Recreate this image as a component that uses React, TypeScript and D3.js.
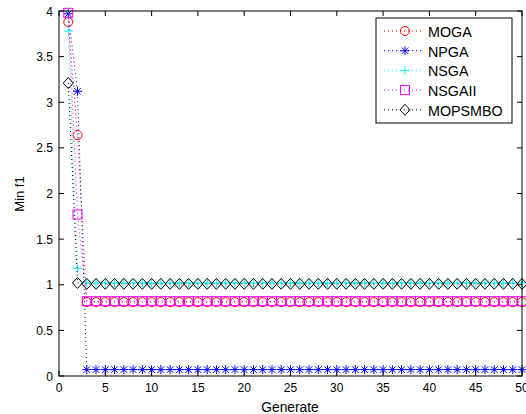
import React from "react";
import * as d3 from "d3";

const generations: number[] = d3.range(1, 51);
const seriesNames = ["MOGA", "NPGA", "NSGA", "NSGAII", "MOPSMBO"];
const mogaHead = [3.88, 2.64];
const npgaHead = [3.97, 3.12];
const nsgaHead = [3.78, 1.18];
const nsgaiiHead = [3.98, 1.77];
const mopsmboHead = [3.21, 1.02];
const mogaTail = 0.81;
const npgaTail = 0.07;
const nsgaTail = 1.02;
const nsgaiiTail = 0.82;
const mopsmboTail = 1.01;
const xTicks = [0, 5, 10, 15, 20, 25, 30, 35, 40, 45, 50];
const yTicks = [0, 0.5, 1, 1.5, 2, 2.5, 3, 3.5, 4];

const build = (head: number[], tail: number) =>
  generations.map((g, i) => ({ x: g, y: i < head.length ? head[i] : tail }));

const seriesValues = [
  build(mogaHead, mogaTail),
  build(npgaHead, npgaTail),
  build(nsgaHead, nsgaTail),
  build(nsgaiiHead, nsgaiiTail),
  build(mopsmboHead, mopsmboTail),
];
const colors = ["#ff0000", "#0000ff", "#00ffff", "#ff00ff", "#000000"];
const markers = ["circle", "star", "plus", "square", "diamond"];

const W = 526, H = 414;
const L = 59, R = 522, T = 11, B = 376;
const FONT = "'Liberation Sans', Arial, Helvetica, sans-serif";

function Marker({ type, x, y, color }: { type: string; x: number; y: number; color: string }) {
  const s = 4.5;
  switch (type) {
    case "circle":
      return <circle cx={x} cy={y} r={s} fill="none" stroke={color} strokeWidth={1} />;
    case "square":
      return <rect x={x - s} y={y - s} width={2 * s} height={2 * s} fill="none" stroke={color} strokeWidth={1} />;
    case "diamond":
      return (
        <path d={`M${x},${y - 5.5}L${x + 5},${y}L${x},${y + 5.5}L${x - 5},${y}Z`} fill="none" stroke={color} strokeWidth={1} />
      );
    case "plus":
      return <path d={`M${x - s},${y}H${x + s}M${x},${y - s}V${y + s}`} stroke={color} strokeWidth={1} />;
    case "star": {
      const d = s * 0.72;
      return (
        <path
          d={`M${x - s},${y}H${x + s}M${x},${y - s}V${y + s}M${x - d},${y - d}L${x + d},${y + d}M${x - d},${y + d}L${x + d},${y - d}`}
          stroke={color}
          strokeWidth={1}
        />
      );
    }
  }
  return null;
}

export default function App() {
  const x = d3.scaleLinear().domain([0, 50]).range([L, R]);
  const y = d3.scaleLinear().domain([0, 4]).range([B, T]);
  const line = d3
    .line<{ x: number; y: number }>()
    .x((d) => x(d.x))
    .y((d) => y(d.y));

  const legX = 376, legY = 18, legW = 136, legH = 105;
  const rowY = seriesNames.map((_, i) => 31 + i * 19.7);

  return (
    <svg width={W} height={H} style={{ position: "absolute", left: 0, top: 0, background: "#fff" }} fontFamily={FONT}>
      <rect x={0} y={0} width={W} height={H} fill="#fff" />
      {seriesValues.map((vals, i) => (
        <g key={seriesNames[i]}>
          <path d={line(vals) || ""} fill="none" stroke={colors[i]} strokeWidth={1} strokeDasharray="1,3" />
          {vals.map((v, j) => (
            <Marker key={j} type={markers[i]} x={x(v.x)} y={y(v.y)} color={colors[i]} />
          ))}
        </g>
      ))}
      <rect x={L} y={T} width={R - L} height={B - T} fill="none" stroke="#000" strokeWidth={1} />
      {xTicks.map((t) => (
        <g key={"x" + t}>
          <line x1={x(t)} x2={x(t)} y1={B} y2={B - 5} stroke="#000" />
          <line x1={x(t)} x2={x(t)} y1={T} y2={T + 5} stroke="#000" />
          <text x={x(t)} y={391.5} textAnchor="middle" fontSize={12}>
            {t}
          </text>
        </g>
      ))}
      {yTicks.map((t) => (
        <g key={"y" + t}>
          <line x1={L} x2={L + 5} y1={y(t)} y2={y(t)} stroke="#000" />
          <line x1={R} x2={R - 5} y1={y(t)} y2={y(t)} stroke="#000" />
          <text x={53} y={y(t) + 4.5} textAnchor="end" fontSize={12}>
            {t}
          </text>
        </g>
      ))}
      <text x={290} y={411.5} textAnchor="middle" fontSize={13.8}>
        Generate
      </text>
      <text transform={`translate(23.5,194) rotate(-90)`} textAnchor="middle" fontSize={13}>
        Min f1
      </text>
      <rect x={legX} y={legY} width={legW} height={legH} fill="#fff" stroke="#000" strokeWidth={1} />
      {seriesNames.map((n, i) => (
        <g key={"leg" + n}>
          <line x1={384} x2={424} y1={rowY[i]} y2={rowY[i]} stroke={colors[i]} strokeDasharray="1,3" />
          <Marker type={markers[i]} x={405} y={rowY[i]} color={colors[i]} />
          <text x={428} y={rowY[i] + 6} fontSize={14.3}>
            {n}
          </text>
        </g>
      ))}
    </svg>
  );
}
